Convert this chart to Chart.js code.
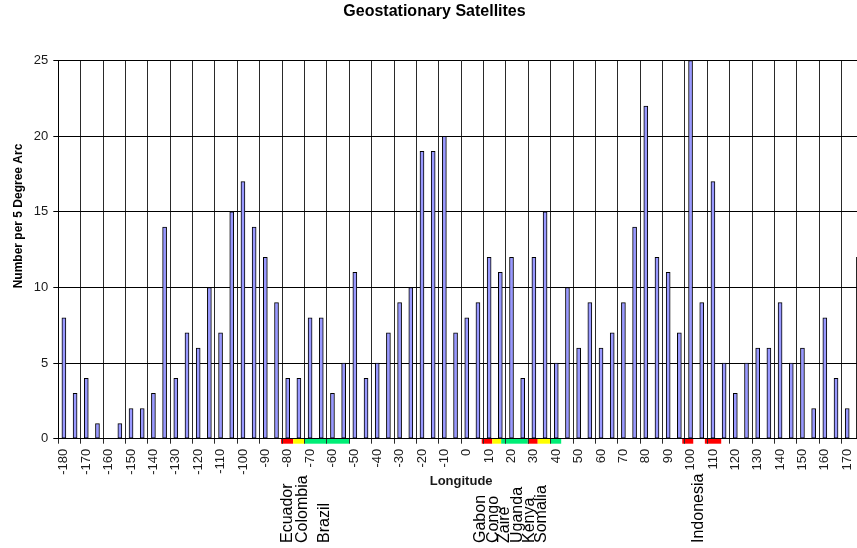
<!DOCTYPE html>
<html>
<head>
<meta charset="utf-8">
<title>Geostationary Satellites</title>
<script src="https://cdn.jsdelivr.net/npm/chart.js@4.4.1/dist/chart.umd.min.js"></script>
<style>
    html, body { margin: 0; padding: 0; background: #fff; overflow: hidden; }
    #wrap { width: 870px; height: 548px; }
</style>
</head>
<body>
<div id="wrap"><canvas id="chart" width="870" height="548"></canvas></div>
<script>
// longitude of each 5 degree slot
const longitudes = [
    -180, -175, -170, -165, -160, -155, -150, -145, -140, -135,
    -130, -125, -120, -115, -110, -105, -100, -95, -90, -85,
    -80, -75, -70, -65, -60, -55, -50, -45, -40, -35,
    -30, -25, -20, -15, -10, -5, 0, 5, 10, 15,
    20, 25, 30, 35, 40, 45, 50, 55, 60, 65,
    70, 75, 80, 85, 90, 95, 100, 105, 110, 115,
    120, 125, 130, 135, 140, 145, 150, 155, 160, 165,
    170, 175
];

// satellites per 5 degree arc
const satelliteCounts = [
    8, 3, 4, 1, 0, 1, 2, 2, 3, 14,
    4, 7, 6, 10, 7, 15, 17, 14, 12, 9,
    4, 4, 8, 8, 3, 5, 11, 4, 5, 7,
    9, 10, 19, 19, 20, 7, 8, 9, 12, 11,
    12, 4, 12, 15, 5, 10, 6, 9, 6, 7,
    9, 14, 22, 12, 11, 7, 25, 9, 17, 5,
    3, 5, 6, 6, 9, 5, 6, 2, 8, 4,
    2, 12
];

const yTicks = [0, 5, 10, 15, 20, 25];

// equatorial countries: stretch of the equator they cover (degrees)
const stripFrom = [-83, -77.6, -72.4, 6.7, 11.4, 15.4, 27.3, 31.7, 37.6, 96.3, 106.4];
const stripTo = [-77.6, -72.4, -52.4, 11.4, 15.4, 27.3, 31.7, 37.6, 42.2, 101.2, 113.7];
const stripKind = [0, 1, 2, 0, 1, 2, 0, 1, 2, 0, 0];

const countryNames = ['Ecuador', 'Colombia', 'Brazil', 'Gabon', 'Congo', 'Zaire', 'Uganda', 'Kenya', 'Somalia', 'Indonesia'];
const countryLabelLon = [-80.2, -73.5, -63.3, 6.3, 11.9, 17.0, 22.6, 28.2, 33.3, 103.6];

const stripColors = ['#ff0000', '#ffff00', '#00ee76'];
const FONT = "'Liberation Sans', Arial, sans-serif";

function lonToPixel(scale, lon) {
    return scale.getPixelForValue((lon - longitudes[0]) / 5);
}

const countryPlugin = {
    id: 'countries',
    beforeDraw(chart) {
        const ctx = chart.ctx;
        const x = chart.scales.x;
        const bottom = chart.chartArea.bottom;
        ctx.save();
        for (let i = 0; i < stripFrom.length; i++) {
            const x0 = lonToPixel(x, stripFrom[i]);
            const x1 = lonToPixel(x, stripTo[i]);
            ctx.fillStyle = stripColors[stripKind[i]];
            ctx.fillRect(x0, bottom, x1 - x0, 5);
        }
        ctx.restore();
    },
    afterDraw(chart) {
        const ctx = chart.ctx;
        const x = chart.scales.x;
        ctx.save();
        ctx.fillStyle = '#000';
        ctx.font = '16px ' + FONT;
        ctx.textAlign = 'left';
        ctx.textBaseline = 'middle';
        countryNames.forEach((name, i) => {
            ctx.save();
            ctx.translate(lonToPixel(x, countryLabelLon[i]), 543);
            ctx.rotate(-Math.PI / 2);
            ctx.fillText(name, 0, 0);
            ctx.restore();
        });

        // y axis title sits a bit above the middle of the axis
        ctx.font = 'bold 12px ' + FONT;
        ctx.textAlign = 'center';
        ctx.translate(19, 216);
        ctx.rotate(-Math.PI / 2);
        ctx.fillText('Number per 5 Degree Arc', 0, 0);
        ctx.restore();
    }
};

new Chart(document.getElementById('chart'), {
    type: 'bar',
    data: {
        labels: longitudes,
        datasets: [{
            label: 'Satellites',
            data: satelliteCounts,
            backgroundColor: '#9999ff',
            borderColor: '#000',
            borderWidth: 1,
            borderSkipped: false,
            barThickness: 4
        }]
    },
    options: {
        responsive: false,
        animation: false,
        layout: { padding: { left: 5, right: 6, top: 0, bottom: 59.2 } },
        plugins: {
            legend: { display: false },
            tooltip: { enabled: false },
            title: {
                display: true,
                text: 'Geostationary Satellites',
                color: '#000',
                font: { family: FONT, size: 16, weight: 'bold' },
                padding: { top: 2, bottom: 39.5 }
            }
        },
        scales: {
            x: {
                offset: true,
                afterFit: scale => {
                    scale.height = 50.1;
                    scale.paddingLeft = 0;
                    scale.paddingRight = 0;
                },
                grid: {
                    offset: true,
                    color: ctx => ctx.index % 2 === 0 ? '#2a2a2a' : 'rgba(0,0,0,0)',
                    tickLength: 5
                },
                border: { color: '#000' },
                ticks: {
                    autoSkip: false,
                    minRotation: 90,
                    maxRotation: 90,
                    padding: 5,
                    color: '#1a1a1a',
                    font: { family: FONT, size: 13 },
                    callback: function (value, index) {
                        return index % 2 === 0 ? this.getLabelForValue(value) : '';
                    }
                },
                title: {
                    display: true,
                    text: 'Longitude',
                    color: '#1a1a1a',
                    font: { family: FONT, size: 13, weight: 'bold' },
                    padding: { top: 0, bottom: 0 }
                }
            },
            y: {
                min: yTicks[0],
                max: yTicks[yTicks.length - 1],
                afterFit: scale => { scale.width = 53.3; },
                afterBuildTicks: scale => { scale.ticks = yTicks.map(v => ({ value: v })); },
                grid: { color: '#000', tickLength: 5 },
                border: { color: '#000' },
                ticks: {
                    padding: 5,
                    color: '#1a1a1a',
                    font: { family: FONT, size: 13 }
                }
            }
        }
    },
    plugins: [countryPlugin]
});
</script>
</body>
</html>
